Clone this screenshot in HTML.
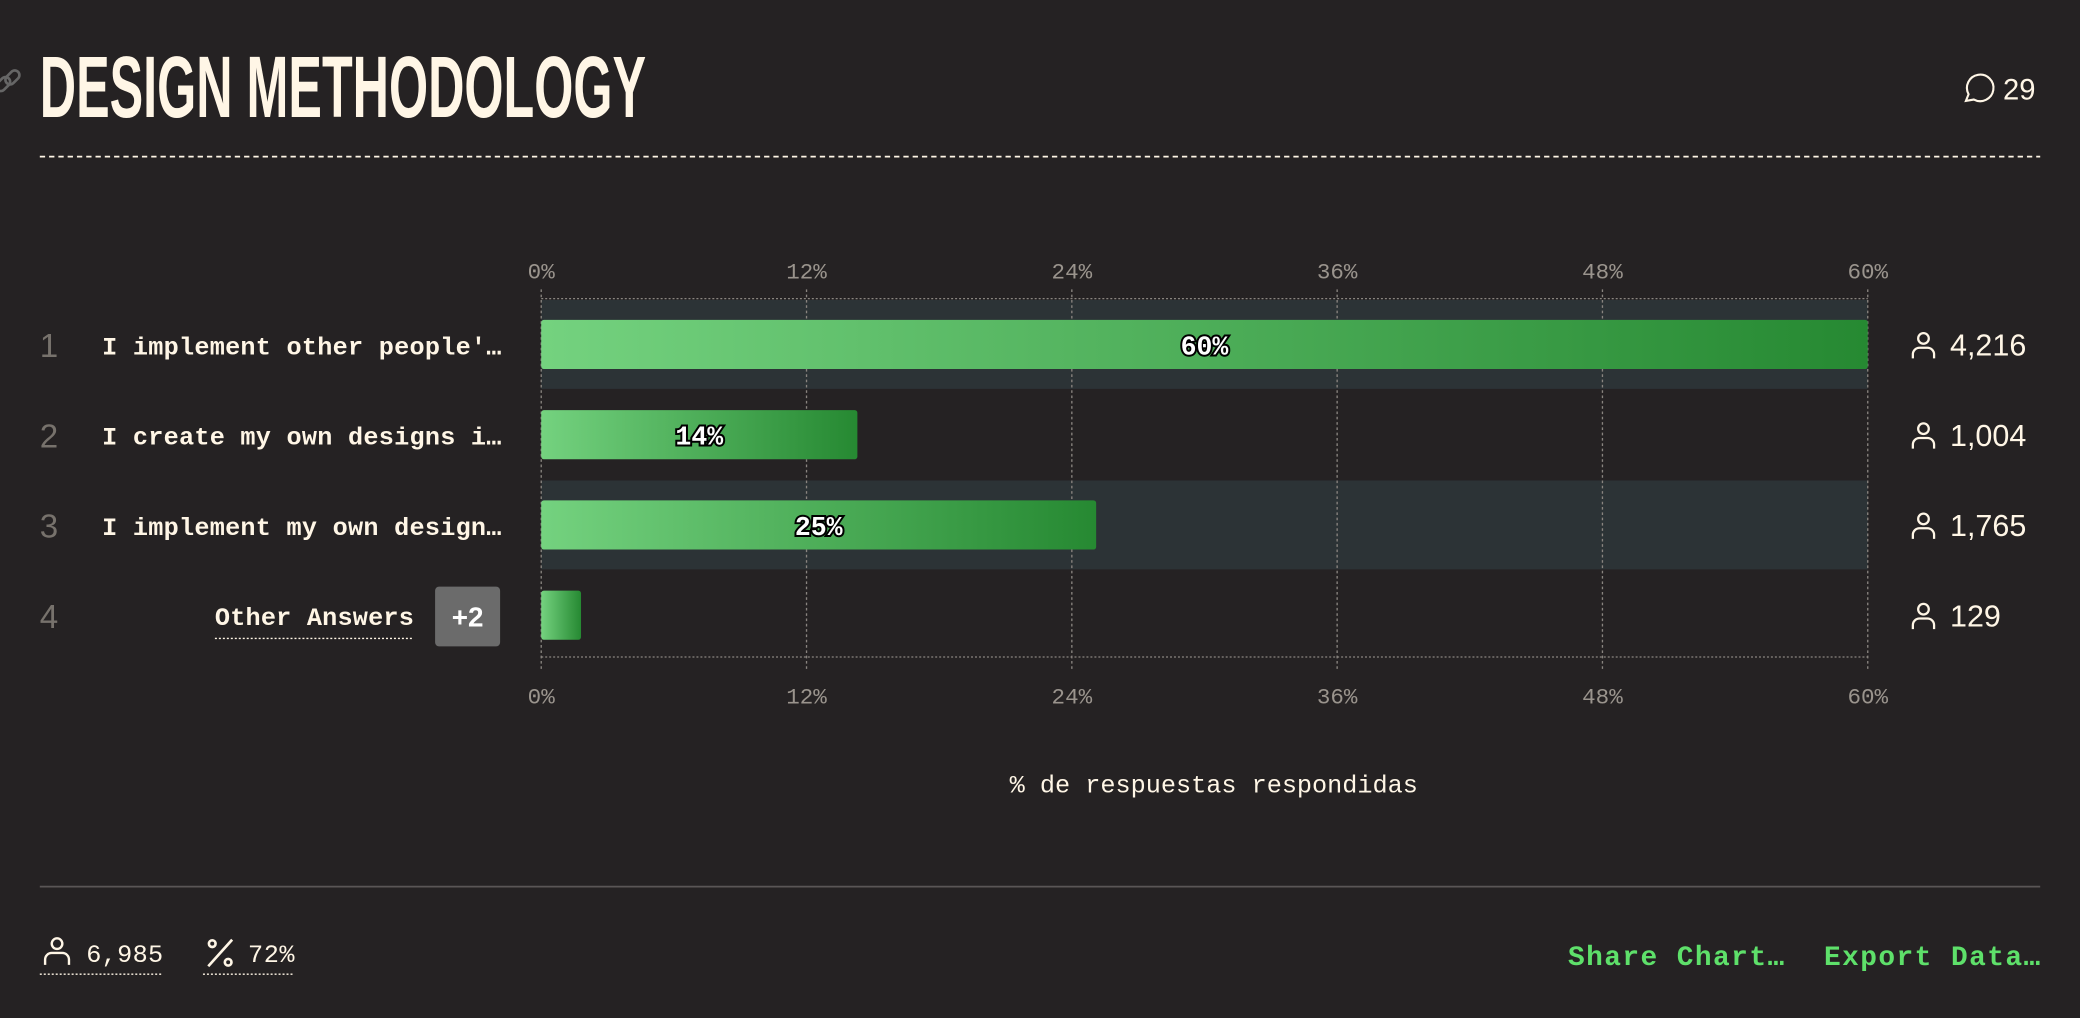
<!DOCTYPE html>
<html><head><meta charset="utf-8"><style>
html,body{margin:0;padding:0;background:#252223;overflow:hidden;width:2080px;height:1018px}
svg{display:block}
.mono{font-family:"Liberation Mono",monospace}
</style></head><body>
<svg id="chart" width="2080" height="1018" viewBox="0 0 1568 767" preserveAspectRatio="none" xmlns="http://www.w3.org/2000/svg">
<defs>
<linearGradient id="g" x1="0" x2="1" y1="0" y2="0"><stop offset="0" stop-color="#74d27f"/><stop offset="1" stop-color="#268932"/></linearGradient>
</defs>
<rect width="1568" height="767" fill="#252223"/>
<g stroke="#666" stroke-width="2" fill="none"><rect x="-4" y="60" width="12" height="7" rx="3.5" transform="rotate(-45 2 63)"/><rect x="3" y="55" width="12" height="7" rx="3.5" transform="rotate(-45 9 58)"/></g>
<text x="30" y="88" font-family="'Liberation Sans Narrow','Liberation Sans',sans-serif" font-weight="bold" font-size="66" fill="#fff6e6" textLength="457" lengthAdjust="spacingAndGlyphs">DESIGN METHODOLOGY</text>
<g><path d="M1482 76 l2 -5 a10 10 0 1 1 4 4 z" fill="none" stroke="#fff6e6" stroke-width="1.6"/><text x="1510" y="75" font-family="'Liberation Sans',sans-serif" font-size="22" fill="#fff6e6">29</text></g>
<line x1="30" x2="1538" y1="118" y2="118" stroke="#fff6e6" stroke-width="1.3" stroke-dasharray="4 3"/>
<g id="plot"></g>
<text x="915" y="597" text-anchor="middle" class="mono" font-size="19" fill="#fff6e6">% de respuestas respondidas</text>
<line x1="30" x2="1538" y1="668" y2="668" stroke="#5a5656" stroke-width="1.3"/>
<g><circle cx="43" cy="711" r="4" fill="none" stroke="#fff6e6" stroke-width="1.8"/><path d="M34 727 v-4 a5 5 0 0 1 5 -5 h8 a5 5 0 0 1 5 5 v4" fill="none" stroke="#fff6e6" stroke-width="1.8"/><text x="65" y="725" class="mono" font-size="19" fill="#fff6e6" textLength="58">6,985</text><line x1="30" x2="123" y1="734" y2="734" stroke="#fff6e6" stroke-dasharray="1.5 1.5"/></g>
<g><g stroke="#fff6e6" stroke-width="2" fill="none"><circle cx="160" cy="711" r="2.5"/><circle cx="172" cy="725" r="2.5"/><line x1="157" y1="728" x2="175" y2="708"/></g><text x="187" y="725" class="mono" font-size="19" fill="#fff6e6" textLength="35">72%</text><line x1="153" x2="222" y1="734" y2="734" stroke="#fff6e6" stroke-dasharray="1.5 1.5"/></g>
<text x="1182" y="727" class="mono" font-weight="bold" font-size="21" fill="#5ee06a" textLength="163">Share Chart…</text>
<text x="1375" y="727" class="mono" font-weight="bold" font-size="21" fill="#5ee06a" textLength="163">Export Data…</text>
</svg>
<script>
const categories = ["I implement other people'…","I create my own designs i…","I implement my own design…","Other Answers"];
const percents = [60, 14.3, 25.1, 1.8];
const counts = ["4,216","1,004","1,765","129"];
const tickValues = [0, 12, 24, 36, 48, 60];
const tickLabels = ["0%","12%","24%","36%","48%","60%"];

const NS = "http://www.w3.org/2000/svg";
const X0 = 408, X1 = 1408, MAXV = 60;
const xs = v => X0 + (Math.min(v, MAXV) / MAXV) * (X1 - X0);
const rowY = i => 260 + i * 68;
const plot = document.getElementById('plot');
function mk(tag, attrs, parent, txt) {
  const e = document.createElementNS(NS, tag);
  for (const k in attrs) e.setAttribute(k, attrs[k]);
  if (txt !== undefined) e.textContent = txt;
  (parent || plot).appendChild(e);
  return e;
}
categories.forEach((c, i) => {
  if (i % 2 === 0 && i < 3) {
    const b = mk('rect', {x: X0, y: rowY(i) - 34, width: X1 - X0, height: 67, fill: '#2c3336'});
    
    
  }
});
tickValues.forEach((v, j) => {
  const x = xs(v);
  const gl = mk('line', {x1: x, x2: x, y1: 218, y2: 505, stroke: '#8a8580', 'stroke-width': 1, 'stroke-dasharray': '2 2'});
  
  
  const t1 = mk('text', {x: x, y: 210, 'text-anchor': 'middle', 'font-family': '"Liberation Mono",monospace', 'font-size': 17, fill: '#9a948d'}, plot, tickLabels[j]);
  
  
  const t2 = mk('text', {x: x, y: 530, 'text-anchor': 'middle', 'font-family': '"Liberation Mono",monospace', 'font-size': 17, fill: '#9a948d'}, plot, tickLabels[j]);
  
  
});
[225, 495].forEach(y => {
  const l = mk('line', {x1: X0, x2: X1, y1: y, y2: y, stroke: '#8a8580', 'stroke-dasharray': '1.5 1.5'});
  
  
});
categories.forEach((c, i) => {
  const y = rowY(i);
  const n = mk('text', {x: 30, y: y + 9, 'font-family': '"Liberation Sans",sans-serif', 'font-size': 25, fill: '#77726c'}, plot, String(i + 1));
  
  
  if (i < 3) {
    const l = mk('text', {x: 77, y: y + 7, 'font-family': '"Liberation Mono",monospace', 'font-weight': 'bold', 'font-size': 19, fill: '#fff6e6', textLength: 301}, plot, c);
    
    
  } else {
    const l = mk('text', {x: 162, y: y + 7, 'font-family': '"Liberation Mono",monospace', 'font-weight': 'bold', 'font-size': 19, fill: '#fff6e6', textLength: 150}, plot, c);
    
    
    const u = mk('line', {x1: 162, x2: 312, y1: y + 17, y2: y + 17, stroke: '#fff6e6', 'stroke-dasharray': '1.5 1.5'});
    
    
    const b = mk('rect', {x: 328, y: y - 22, width: 49, height: 45, rx: 3, fill: '#6b6b6b'});
    
    
    const bt = mk('text', {x: 352.5, y: y + 8, 'text-anchor': 'middle', 'font-family': '"Liberation Sans",sans-serif', 'font-weight': 'bold', 'font-size': 21, fill: '#fff'}, plot, '+2');
    
    
  }
  const w = xs(percents[i]) - X0;
  const bar = mk('rect', {x: X0, y: y - 19, width: w, height: 37, rx: 2, fill: 'url(#g)'});
  
  
  if (percents[i] > 5) {
    const v = mk('text', {x: X0 + w / 2, y: y + 7, 'text-anchor': 'middle', 'font-family': '"Liberation Mono",monospace', 'font-weight': 'bold', 'font-size': 20, fill: '#fff', stroke: '#000', 'stroke-width': 3, 'paint-order': 'stroke'}, plot, Math.round(percents[i]) + '%');
    
    
  }
  const g = mk('g', {});
  
  
  mk('circle', {cx: 1450, cy: y - 5, r: 4, fill: 'none', stroke: '#fff6e6', 'stroke-width': 1.7}, g);
  mk('path', {d: `M1442 ${y+10} v-3 a5 5 0 0 1 5 -5 h6 a5 5 0 0 1 5 5 v3`, fill: 'none', stroke: '#fff6e6', 'stroke-width': 1.7}, g);
  mk('text', {x: 1470, y: y + 8, 'font-family': '"Liberation Sans",sans-serif', 'font-size': 23, fill: '#fff6e6'}, g, counts[i]);
});
</script>
</body></html>
